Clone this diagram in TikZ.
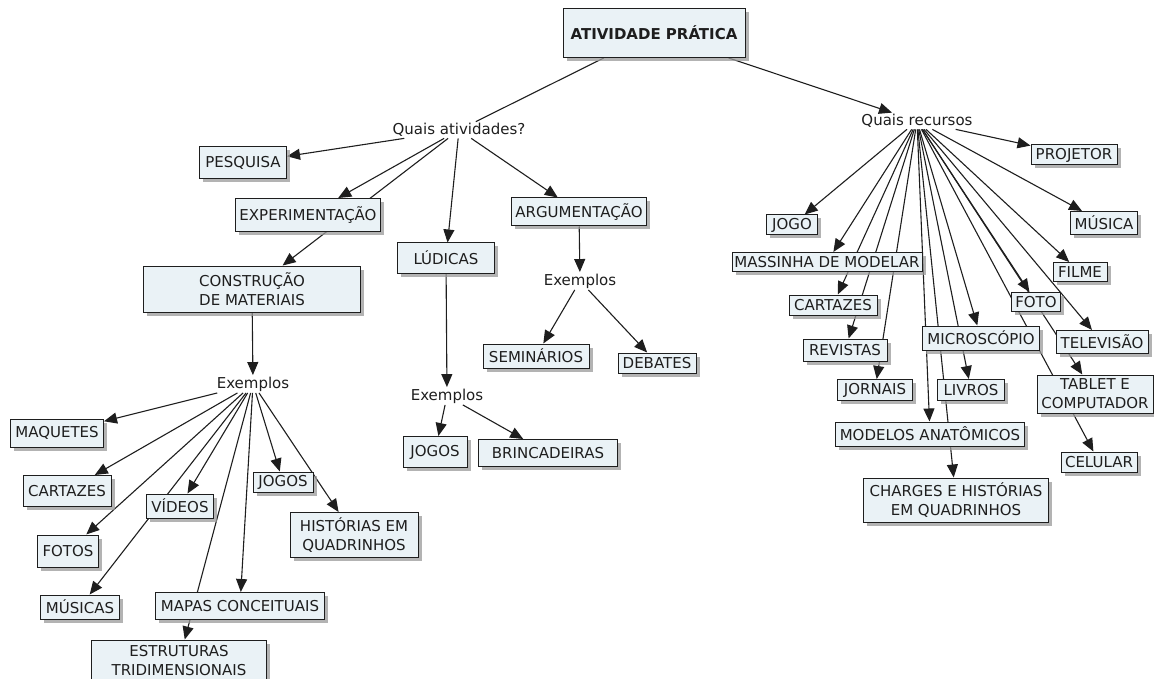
\documentclass[tikz,border=0pt]{standalone}
\usepackage{fontspec}
\setmainfont{DejaVu Sans}
\usepackage{tikz}
\usepackage{xcolor}
\usetikzlibrary{arrows.meta,shadows}
\definecolor{caixa}{RGB}{234,242,246}
\definecolor{traco}{RGB}{30,30,30}
\pgfdeclarelayer{fundo}
\pgfsetlayers{fundo,main}
\tikzset{
  conceito/.style={draw=traco, fill=caixa, line width=1pt, text=traco, align=center, inner sep=2pt,
    font=\fontsize{15}{19}\selectfont,
    drop shadow={shadow xshift=3.5pt, shadow yshift=-3.5pt, fill=black!40, opacity=0.75}},
  ligacao/.style={inner sep=1.5pt, text=traco, font=\fontsize{15}{19}\selectfont},
  seta/.style={draw=traco, line width=1.1pt, -{Triangle[length=13pt,width=11pt]}},
  linha/.style={draw=traco, line width=1.1pt}
}
\begin{document}
\begin{tikzpicture}[x=1pt,y=1pt]
    \useasboundingbox (0,0) rectangle (1154,-679);
    \node[conceito, minimum width=182, minimum height=49, font=\fontsize{15}{19}\selectfont\bfseries] (atividade) at (654,-33) {ATIVIDADE PRÁTICA};
    \node[ligacao] (qatv) at (459,-130) {Quais atividades?};
    \node[ligacao] (qrec) at (917,-121) {Quais recursos};
    \node[conceito, minimum width=87, minimum height=32] (pesquisa) at (243,-163) {PESQUISA};
    \node[conceito, minimum width=145, minimum height=33] (experim) at (308,-215) {EXPERIMENTAÇÃO};
    \node[conceito, minimum width=217, minimum height=46] (construcao) at (252,-289) {CONSTRUÇÃO\\DE MATERIAIS};
    \node[ligacao] (exL) at (253,-384) {Exemplos};
    \node[conceito, minimum width=93, minimum height=28] (maquetes) at (57,-433) {MAQUETES};
    \node[conceito, minimum width=88, minimum height=31] (cartazesL) at (67,-491) {CARTAZES};
    \node[conceito, minimum width=67, minimum height=24] (videos) at (180,-506) {VÍDEOS};
    \node[conceito, minimum width=60, minimum height=20] (jogosL) at (283,-482) {JOGOS};
    \node[conceito, minimum width=128, minimum height=45] (historias) at (354,-535) {HISTÓRIAS EM\\QUADRINHOS};
    \node[conceito, minimum width=61, minimum height=32] (fotos) at (68,-551) {FOTOS};
    \node[conceito, minimum width=79, minimum height=24] (musicas) at (80,-607) {MÚSICAS};
    \node[conceito, minimum width=169, minimum height=27] (mapas) at (240,-606) {MAPAS CONCEITUAIS};
    \node[conceito, minimum width=175, minimum height=42] (estruturas) at (179,-661) {ESTRUTURAS\\TRIDIMENSIONAIS};
    \node[conceito, minimum width=97, minimum height=30] (ludicas) at (446,-258) {LÚDICAS};
    \node[ligacao] (exM) at (447,-396) {Exemplos};
    \node[conceito, minimum width=64, minimum height=31] (jogosM) at (435,-452) {JOGOS};
    \node[conceito, minimum width=139, minimum height=27] (brinc) at (548,-453) {BRINCADEIRAS};
    \node[conceito, minimum width=135, minimum height=28] (argum) at (579,-212) {ARGUMENTAÇÃO};
    \node[ligacao] (exR) at (580,-281) {Exemplos};
    \node[conceito, minimum width=106, minimum height=24] (seminarios) at (536,-356) {SEMINÁRIOS};
    \node[conceito, minimum width=78, minimum height=20] (debates) at (657,-363) {DEBATES};
    \node[conceito, minimum width=86, minimum height=20] (projetor) at (1074,-155) {PROJETOR};
    \node[conceito, minimum width=51, minimum height=20] (jogo) at (792,-225) {JOGO};
    \node[conceito, minimum width=67, minimum height=23] (musica) at (1104,-223) {MÚSICA};
    \node[conceito, minimum width=190, minimum height=19] (massinha) at (827,-262) {MASSINHA DE MODELAR};
    \node[conceito, minimum width=54, minimum height=19] (filme) at (1080,-272) {FILME};
    \node[conceito, minimum width=49, minimum height=19] (foto) at (1036,-302) {FOTO};
    \node[conceito, minimum width=88, minimum height=20] (cartazesR) at (833,-305) {CARTAZES};
    \node[conceito, minimum width=84, minimum height=22] (revistas) at (845,-350) {REVISTAS};
    \node[conceito, minimum width=117, minimum height=24] (microscopio) at (981,-338) {MICROSCÓPIO};
    \node[conceito, minimum width=92, minimum height=23] (televisao) at (1102,-342) {TELEVISÃO};
    \node[conceito, minimum width=75, minimum height=21] (jornais) at (875,-390) {JORNAIS};
    \node[conceito, minimum width=67, minimum height=21] (livros) at (971,-390) {LIVROS};
    \node[conceito, minimum width=116, minimum height=38] (tablet) at (1095,-394) {TABLET E\\COMPUTADOR};
    \node[conceito, minimum width=189, minimum height=24] (modelos) at (930,-434) {MODELOS ANATÔMICOS};
    \node[conceito, minimum width=76, minimum height=20] (celular) at (1099,-462) {CELULAR};
    \node[conceito, minimum width=185, minimum height=44] (charges) at (956,-500) {CHARGES E HISTÓRIAS\\EM QUADRINHOS};
    \begin{pgfonlayer}{fundo}
        \draw[linha] (atividade) -- (qatv);
        \draw[seta] (atividade) -- (qrec);
        \draw[seta] (qatv) -- (pesquisa);
        \draw[seta] (qatv) -- (experim);
        \draw[seta] (qatv) -- (construcao);
        \draw[seta] (qatv) -- (ludicas);
        \draw[seta] (qatv) -- (argum);
        \draw[seta] (construcao) -- (exL);
        \draw[seta] (exL) -- (maquetes);
        \draw[seta] (exL) -- (cartazesL);
        \draw[seta] (exL) -- (fotos);
        \draw[seta] (exL) -- (videos);
        \draw[seta] (exL) -- (musicas);
        \draw[seta] (exL) -- (mapas);
        \draw[seta] (exL) -- (estruturas);
        \draw[seta] (exL) -- (jogosL);
        \draw[seta] (exL) -- (historias);
        \draw[seta] (ludicas) -- (exM);
        \draw[seta] (exM) -- (jogosM);
        \draw[seta] (exM) -- (brinc);
        \draw[seta] (argum) -- (exR);
        \draw[seta] (exR) -- (seminarios);
        \draw[seta] (exR) -- (debates);
        \draw[seta] (qrec) -- (projetor);
        \draw[seta] (qrec) -- (jogo);
        \draw[seta] (qrec) -- (musica);
        \draw[seta] (qrec) -- (massinha);
        \draw[seta] (qrec) -- (filme);
        \draw[seta] (qrec) -- (foto);
        \draw[seta] (qrec) -- (cartazesR);
        \draw[seta] (qrec) -- (revistas);
        \draw[seta] (qrec) -- (microscopio);
        \draw[seta] (qrec) -- (televisao);
        \draw[seta] (qrec) -- (jornais);
        \draw[seta] (qrec) -- (livros);
        \draw[seta] (qrec) -- (tablet);
        \draw[seta] (qrec) -- (modelos);
        \draw[seta] (qrec) -- (celular);
        \draw[seta] (qrec) -- (charges);
    \end{pgfonlayer}
\end{tikzpicture}
\end{document}
